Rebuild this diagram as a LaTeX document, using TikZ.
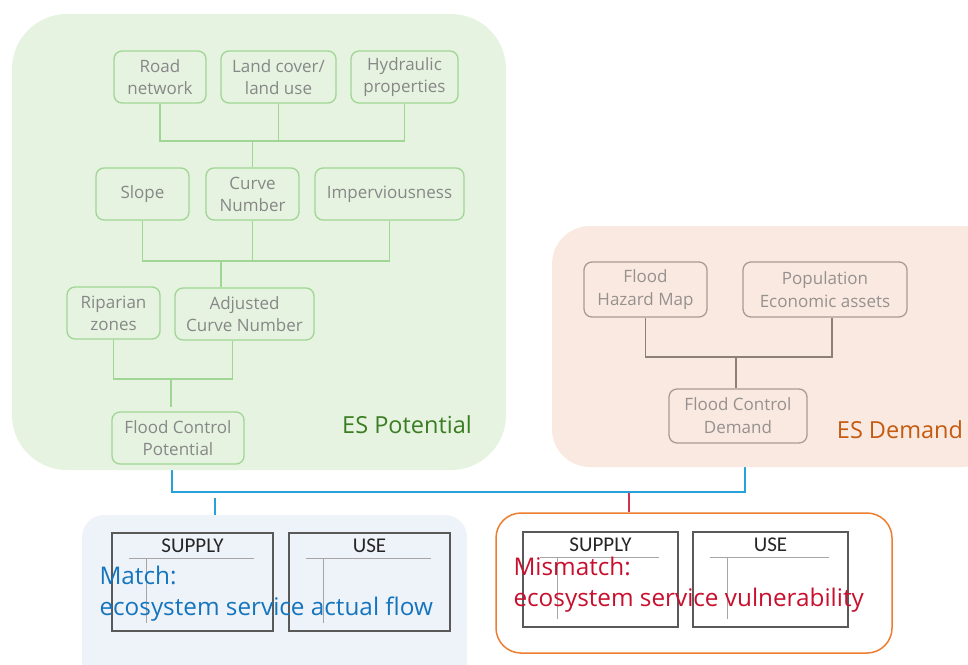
\documentclass[tikz,border=0pt]{standalone}
\usepackage{fontspec}
\setmainfont{Open Sans}
\newfontfamily\calfont{Carlito}
\usetikzlibrary{backgrounds}

\definecolor{potfill}{RGB}{230,243,224}
\definecolor{gline}{RGB}{160,214,148}
\definecolor{gtext}{RGB}{135,135,135}
\definecolor{potlabel}{RGB}{59,125,35}
\definecolor{demfill}{RGB}{250,233,224}
\definecolor{dline}{RGB}{170,155,146}
\definecolor{dlink}{RGB}{140,128,120}
\definecolor{dtext}{RGB}{150,145,143}
\definecolor{demlabel}{RGB}{197,90,17}
\definecolor{matchfill}{RGB}{238,243,249}
\definecolor{flowblue}{RGB}{40,160,218}
\definecolor{matchtext}{RGB}{20,117,190}
\definecolor{mmorange}{RGB}{237,125,49}
\definecolor{mmred}{RGB}{200,16,46}
\definecolor{tline}{RGB}{166,166,166}

\begin{document}
\begin{tikzpicture}[x=1pt, y=-1pt,
  gbox/.style={draw=gline, line width=1.3pt, rounded corners=8pt, fill=potfill,
    text=gtext, align=center, minimum height=52pt, inner sep=2pt,
    font=\fontsize{17}{22}\selectfont},
  dbox/.style={draw=dline, line width=1.3pt, rounded corners=8pt, fill=demfill,
    text=dtext, align=center, minimum height=55pt, inner sep=2pt,
    font=\fontsize{17}{23}\selectfont},
  glink/.style={draw=gline, line width=1.3pt},
  dlink/.style={draw=dlink, line width=1.3pt},
  panel/.style={rounded corners=#1, inner sep=0pt},
  taccount/.style={draw=black!65, line width=1.3pt, minimum width=161pt, minimum height=98pt, inner sep=0pt},
  thead/.style={font=\calfont\fontsize{21}{24}\selectfont, text=black!85},
  tsplit/.style={draw=tline, line width=1.1pt},
  bigtext/.style={align=left, anchor=west, font=\fontsize{24.3}{31}\selectfont}]
  \useasboundingbox (0,0) rectangle (968,664);

  % ES potential
  \node[gbox, minimum width=92pt] (road) at (160,77) {Road\\network};
  \node[gbox, minimum width=115pt] (land) at (278.5,77) {Land cover/\\land use};
  \node[gbox, minimum width=107pt] (hydr) at (404.5,77) {Hydraulic\\properties};
  \node[gbox, minimum width=93pt] (slope) at (142.5,194) {Slope};
  \node[gbox, minimum width=93pt] (cn) at (252.5,194) {Curve\\Number};
  \node[gbox, minimum width=149pt] (imperv) at (389.5,194) {Imperviousness};
  \node[gbox, minimum width=93pt] (rip) at (113.5,313) {Riparian\\zones};
  \node[gbox, minimum width=139pt] (adj) at (244.5,314) {Adjusted\\Curve Number};
  \node[gbox, minimum width=132pt] (fcp) at (178,438) {Flood Control\\Potential};
  \node[text=potlabel, font=\fontsize{23.5}{28}\selectfont] (potname) at (407,425) {ES Potential};

  \coordinate (j1) at (252.5,141);
  \coordinate (j2) at (221,261);
  \coordinate (j3) at (171,379);
  \draw[glink] (road.south) |- (j1) -| (hydr.south);
  \draw[glink] (land.south) -- (land.south |- j1);
  \draw[glink] (j1) -- (cn.north);
  \draw[glink] (slope.south) |- (j2) -| (imperv.south);
  \draw[glink] (cn.south) -- (cn.south |- j2);
  \draw[glink] (j2) -- (j2 |- adj.north);
  \draw[glink] (rip.south) |- (j3) -| ([xshift=-12pt]adj.south);
  \draw[glink] (j3) -- ([yshift=4pt]j3 |- fcp.north);

  % ES demand
  \node[dbox, minimum width=123pt] (haz) at (645.5,289.5) {Flood\\Hazard Map};
  \node[dbox, minimum width=164pt] (pop) at (825,289.5) {Population\\Economic assets};
  \node[dbox, minimum width=138pt, minimum height=54pt] (fcd) at (738,416) {Flood Control\\Demand};
  \node[text=demlabel, font=\fontsize{23.5}{28}\selectfont] (demname) at (900,430) {ES Demand};

  \coordinate (j4) at (736,357);
  \draw[dlink] (haz.south) |- (j4) -| ([xshift=7pt]pop.south);
  \draw[dlink] (j4) -- (j4 |- fcd.north);

  % supply and use
  \node[taccount] (msup) at (192.5,582) {};
  \node[taccount] (muse) at (369.5,582) {};
  \node[taccount, minimum width=155pt, minimum height=95pt] (xsup) at (600.5,579.5) {};
  \node[taccount, minimum width=155pt, minimum height=95pt] (xuse) at (770.5,579.5) {};
  \node[thead] (msuph) at ([yshift=-13pt]msup.north) {SUPPLY};
  \node[thead] (museh) at ([yshift=-13pt]muse.north) {USE};
  \node[thead] (xsuph) at ([yshift=-13pt]xsup.north) {SUPPLY};
  \node[thead] (xuseh) at ([yshift=-13pt]xuse.north) {USE};
  \foreach \t in {msup, muse, xsup, xuse} {
    \draw[tsplit] ([xshift=18pt, yshift=-26pt]\t.north west) -- ([xshift=-20pt, yshift=-26pt]\t.north east);
    \draw[tsplit] ([xshift=35pt, yshift=-26pt]\t.north west) -- ([xshift=35pt, yshift=9pt]\t.south west);
  }
  \node[bigtext, text=matchtext] (match) at (96,594) {Match:\\ecosystem service actual flow};
  \node[bigtext, text=mmred] (mismatch) at (510,585) {Mismatch:\\ecosystem service vulnerability};

  \begin{scope}[on background layer]
    \coordinate (j5) at (745,492);
    \draw[flowblue, line width=1.3pt] ([xshift=-6pt]fcp.south) |- (j5) -- ([xshift=7pt]fcd.south);
    \node[panel=55pt, fill=potfill, minimum width=494pt, minimum height=456pt] (potpanel) at (259,242) {};
    \node[panel=38pt, fill=demfill, minimum width=448pt, minimum height=241pt] (dempanel) at (776,346.5) {};
    \node[panel=22pt, fill=matchfill, minimum width=385pt, minimum height=185pt] (matchpanel) at (274.5,607.5) {};
    \node[panel=25pt, fill=white, draw=mmorange, line width=1.5pt, minimum width=396pt, minimum height=140pt] (mmpanel) at (694,583) {};
    \coordinate (m1) at (215,498);
    \coordinate (r1) at (629,493);
    \draw[flowblue, line width=1.3pt] (m1) -- (m1 |- matchpanel.north);
    \draw[mmred!85, line width=1.3pt] (r1) -- (r1 |- mmpanel.north);
  \end{scope}
\end{tikzpicture}
\end{document}
